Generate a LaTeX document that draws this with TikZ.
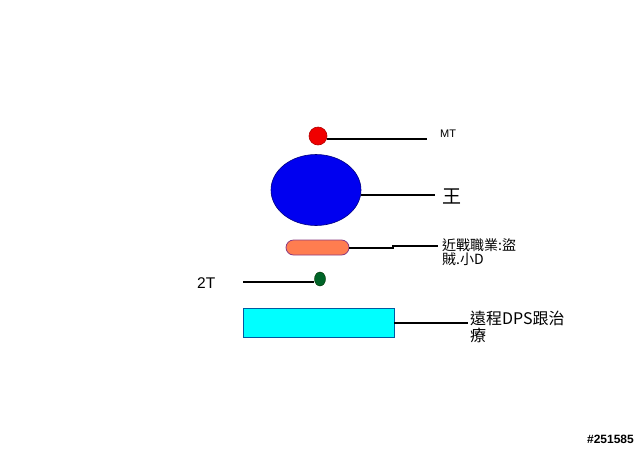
\documentclass[tikz,border=0pt]{standalone}
\usepackage{fontspec}
\usetikzlibrary{shapes.geometric}
\setmainfont{Liberation Sans}
\newfontfamily\cjk{Noto Sans CJK TC}
\definecolor{mtred}{RGB}{240,0,0}
\definecolor{kingblue}{RGB}{0,0,240}
\definecolor{coral}{RGB}{255,125,80}
\definecolor{plumb}{RGB}{140,60,130}
\definecolor{otgreen}{RGB}{0,100,40}
\definecolor{aqua}{RGB}{0,255,255}
\definecolor{aquab}{RGB}{0,90,160}
\begin{document}
\begin{tikzpicture}[x=1pt,y=-1pt,
  conn/.style={line width=2pt,black},
  lbl/.style={anchor=west,inner sep=0pt,align=left}]
\useasboundingbox[fill=white] (0,0) rectangle (640,448);
% shapes
\node (mt) [circle,draw=red!70!black,fill=mtred,minimum size=18pt,inner sep=0pt,line width=0.6pt] at (318,136) {};
\node (king) [ellipse,draw=blue!50!black,fill=kingblue,minimum width=90pt,minimum height=71pt,inner sep=0pt,line width=0.6pt] at (316,190) {};
\node (melee) [rounded corners=7.5pt,draw=plumb,fill=coral,minimum width=63pt,minimum height=15pt,inner sep=0pt,line width=0.8pt] at (317.5,247.5) {};
\node (ot) [ellipse,draw=green!20!black,fill=otgreen,minimum width=11pt,minimum height=14pt,inner sep=0pt] at (320,279) {};
\node (ranged) [rectangle,draw=aquab,fill=aqua,minimum width=151pt,minimum height=29pt,inner sep=0pt,line width=0.8pt] at (318.5,322.5) {};
% labels
\node (tmt) [lbl,font=\fontsize{11}{12}\selectfont] at (440,134) {MT};
\node (tking) [lbl,font=\cjk\fontsize{19}{20}\selectfont] at (442,196) {王};
\node (tmelee) [lbl,anchor=north west,font=\cjk\fontsize{14}{14.5}\selectfont] at (442,238.5) {近戰職業:盜\\賊.小D};
\node (tot) [lbl,font=\fontsize{15.5}{16}\selectfont] at (197,283) {2T};
\node (tranged) [lbl,anchor=north west,font=\cjk\fontsize{16}{17}\selectfont] at (470,310.5) {遠程DPS跟治\\療};
\node (wm) [anchor=south east,inner sep=0pt,font=\bfseries\fontsize{12}{13}\selectfont,text=black] at (634,444) {\#251585};
% connector end points
\coordinate (mte) at (427,139);
\coordinate (kinge) at (435,195);
\coordinate (meleem) at (393,248);
\coordinate (meleee) at (438,246);
\coordinate (ote) at (243,282);
\coordinate (rangede) at (468,322.5);
% connectors
\draw[conn] (mt.east |- mte) -- (mte);
\draw[conn] (king.east |- kinge) -- (kinge);
\draw[conn] (melee.east |- meleem) -- (meleem) |- (meleee);
\draw[conn] (ote) -- (ot.west |- ote);
\draw[conn] (ranged.east) -- (rangede);
\end{tikzpicture}
\end{document}
